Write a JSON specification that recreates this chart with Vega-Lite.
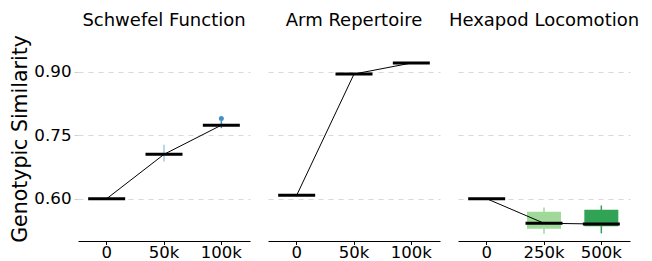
{
  "$schema": "https://vega.github.io/schema/vega-lite/v6.json",
  "background": "white",
  "padding": {"left": 10, "top": 12, "right": 5, "bottom": 0},
  "data": {
    "values": [
      {"panel": "Schwefel Function", "gen": "0", "idx": 0, "series": "S0", "lo": 0.599, "q1": 0.5995, "median": 0.600, "q3": 0.6005, "hi": 0.601, "outlier": null},
      {"panel": "Schwefel Function", "gen": "50k", "idx": 1, "series": "S1", "lo": 0.688, "q1": 0.703, "median": 0.705, "q3": 0.707, "hi": 0.728, "outlier": null},
      {"panel": "Schwefel Function", "gen": "100k", "idx": 2, "series": "S2", "lo": 0.767, "q1": 0.773, "median": 0.774, "q3": 0.776, "hi": 0.784, "outlier": 0.790},
      {"panel": "Arm Repertoire", "gen": "0", "idx": 0, "series": "A0", "lo": 0.6075, "q1": 0.608, "median": 0.608, "q3": 0.608, "hi": 0.6085, "outlier": null},
      {"panel": "Arm Repertoire", "gen": "50k", "idx": 1, "series": "A1", "lo": 0.8945, "q1": 0.895, "median": 0.895, "q3": 0.895, "hi": 0.8955, "outlier": null},
      {"panel": "Arm Repertoire", "gen": "100k", "idx": 2, "series": "A2", "lo": 0.9205, "q1": 0.921, "median": 0.921, "q3": 0.921, "hi": 0.9215, "outlier": null},
      {"panel": "Hexapod Locomotion", "gen": "0", "idx": 0, "series": "H0", "lo": 0.599, "q1": 0.5995, "median": 0.600, "q3": 0.6005, "hi": 0.601, "outlier": null},
      {"panel": "Hexapod Locomotion", "gen": "250k", "idx": 1, "series": "H1", "lo": 0.517, "q1": 0.529, "median": 0.542, "q3": 0.569, "hi": 0.579, "outlier": null},
      {"panel": "Hexapod Locomotion", "gen": "500k", "idx": 2, "series": "H2", "lo": 0.518, "q1": 0.535, "median": 0.540, "q3": 0.574, "hi": 0.584, "outlier": null}
    ]
  },
  "facet": {
    "column": {
      "field": "panel",
      "type": "nominal",
      "sort": ["Schwefel Function", "Arm Repertoire", "Hexapod Locomotion"],
      "header": {"title": null, "labelFontSize": 18, "labelFont": "DejaVu Sans", "labelColor": "black", "labelPadding": 6}
    }
  },
  "spacing": 18,
  "resolve": {"scale": {"x": "independent"}},
  "spec": {
    "width": 172,
    "height": 205,
    "encoding": {
      "x": {
        "field": "gen",
        "type": "nominal",
        "sort": null,
        "scale": {"paddingInner": 0, "paddingOuter": 0},
        "axis": {"title": null, "labelAngle": 0, "labelFontSize": 16.5, "labelFont": "DejaVu Sans", "labelColor": "black", "domainColor": "black", "tickColor": "black", "tickSize": 3.5, "labelPadding": 0, "grid": false}
      }
    },
    "layer": [
      {
        "mark": {"type": "rule", "strokeWidth": 1.5},
        "encoding": {
          "y": {
            "field": "lo", "type": "quantitative",
            "scale": {"domain": [0.5, 0.985], "zero": false, "nice": false},
            "axis": {"title": "Genotypic Similarity", "titleFontSize": 20.5, "titleFont": "DejaVu Sans", "titleFontWeight": "normal", "titleColor": "black", "titlePadding": 3, "values": [0.6, 0.75, 0.9], "format": ".2f", "labelFontSize": 16.7, "labelFont": "DejaVu Sans", "labelColor": "black", "domain": false, "tickColor": "#d0d0d0", "tickSize": 4, "labelPadding": 3, "grid": true, "gridColor": "#d9d9d9", "gridDash": [5, 5], "gridWidth": 1}
          },
          "y2": {"field": "hi"},
          "color": {"field": "series", "type": "nominal", "legend": null,
            "scale": {"domain": ["S0", "S1", "S2", "A0", "A1", "A2", "H0", "H1", "H2"],
                      "range": ["#c6dbef", "#9ecae1", "#4292c6", "#fcbba1", "#fb6a4a", "#cb181d", "#c7e9c0", "#a1d99b", "#31a354"]}}
        }
      },
      {
        "mark": {"type": "bar", "size": 34},
        "encoding": {
          "y": {"field": "q1", "type": "quantitative"},
          "y2": {"field": "q3"},
          "color": {"field": "series", "type": "nominal", "legend": null}
        }
      },
      {
        "mark": {"type": "line", "color": "black", "strokeWidth": 1},
        "encoding": {
          "y": {"field": "median", "type": "quantitative"},
          "order": {"field": "idx", "type": "quantitative"}
        }
      },
      {
        "mark": {"type": "tick", "color": "black", "thickness": 3, "size": 37, "opacity": 1},
        "encoding": {
          "y": {"field": "median", "type": "quantitative"}
        }
      },
      {
        "mark": {"type": "point", "filled": true, "size": 25, "opacity": 1},
        "encoding": {
          "y": {"field": "outlier", "type": "quantitative"},
          "color": {"field": "series", "type": "nominal", "legend": null}
        }
      }
    ]
  },
  "config": {
    "view": {"stroke": null},
    "font": "DejaVu Sans"
  }
}
